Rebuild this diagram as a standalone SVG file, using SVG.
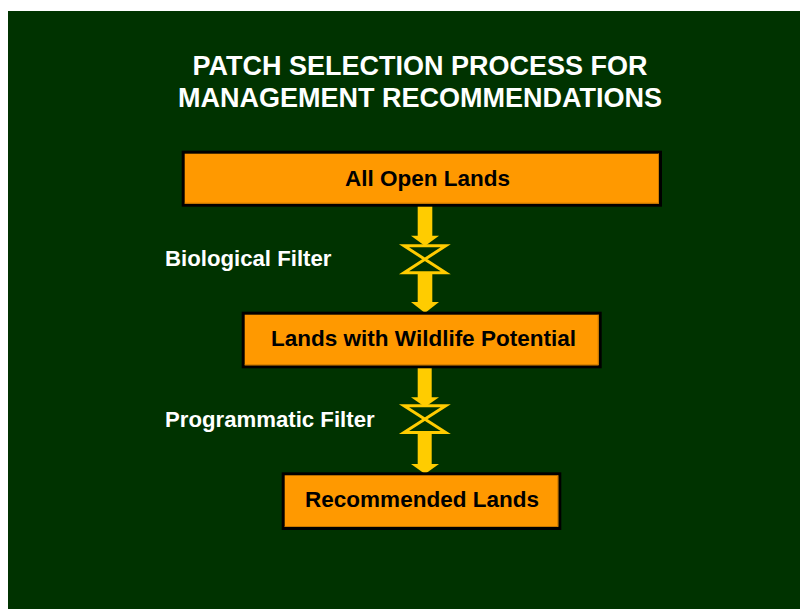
<svg xmlns="http://www.w3.org/2000/svg" width="800" height="609" viewBox="0 0 800 609">
<style>
.t{font-family:"Liberation Sans",Arial,sans-serif;font-weight:bold;}
.title{fill:#ffffff;font-size:27px;text-anchor:middle;}
.lbl{fill:#ffffff;font-size:22.2px;}
.box{fill:#ff9900;stroke:#000000;stroke-width:3;}
.sh{fill:none;stroke:#cc7a00;stroke-width:1;}
.bt{fill:#000000;font-size:22.5px;text-anchor:middle;}
.arr{fill:#ffcc00;}
.valve{fill:none;stroke:#ffcc00;stroke-width:3;}
</style>
<rect x="0" y="0" width="800" height="609" fill="#ffffff"/>
<rect x="8" y="11" width="792" height="598" fill="#003300"/>
<g id="title">
<text class="t title" x="420" y="75">PATCH SELECTION PROCESS FOR</text>
<text class="t title" x="420" y="107">MANAGEMENT RECOMMENDATIONS</text>
</g>
<g id="connectors">
<g id="c1">
<rect class="arr" x="417.7" y="206" width="14.6" height="31"/>
<polygon class="arr" points="411,235.7 439,235.7 425,246"/>
<path class="valve" d="M404,245.8 H445.7 L404,272.7 H445.7 Z"/>
<rect class="arr" x="417.7" y="273" width="14.6" height="30"/>
<polygon class="arr" points="411,302 439,302 425,313"/>
</g>
<g id="c2">
<rect class="arr" x="417.7" y="367" width="14" height="32"/>
<polygon class="arr" points="411,397.3 439,397.3 425,407"/>
<path class="valve" d="M404,405.8 H445.7 L404,432.5 H445.7 Z"/>
<rect class="arr" x="417.7" y="433" width="14" height="32"/>
<polygon class="arr" points="411,464 439,464 425,474"/>
</g>
<text class="t lbl" x="165" y="266">Biological Filter</text>
<text class="t lbl" x="165" y="427">Programmatic Filter</text>
</g>
<g id="n1">
<rect class="box" x="183.2" y="152.2" width="477.3" height="53"/>
<path class="sh" d="M658.5,153.7 V203.2 H184.7"/>
<text class="t bt" x="427.5" y="186">All Open Lands</text>
</g>
<g id="n2">
<rect class="box" x="243.2" y="313.2" width="357" height="53.6"/>
<path class="sh" d="M598.2,314.7 V364.8 H244.7"/>
<text class="t bt" x="423.5" y="346">Lands with Wildlife Potential</text>
</g>
<g id="n3">
<rect class="box" x="283.2" y="473.8" width="276.6" height="54.7"/>
<path class="sh" d="M557.8,475.3 V526.5 H284.7"/>
<text class="t bt" x="422" y="507">Recommended Lands</text>
</g>
</svg>
